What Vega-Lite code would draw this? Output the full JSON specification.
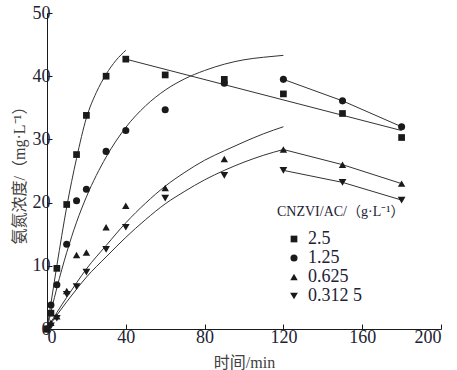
{
  "$schema": "https://vega.github.io/schema/vega-lite/v6.json",
  "width": 394,
  "height": 316,
  "autosize": {"type": "none"},
  "padding": {"left": 47, "top": 13, "right": 16, "bottom": 41},
  "config": {
    "view": {"stroke": null},
    "font": "Liberation Serif",
    "axis": {
      "grid": false,
      "domainColor": "#1a1a1a",
      "domainWidth": 1,
      "tickColor": "#1a1a1a",
      "tickWidth": 1,
      "labelFont": "Liberation Serif",
      "labelFontSize": 18,
      "labelColor": "#222233",
      "titleFont": "Liberation Serif, Noto Sans CJK SC",
      "titleFontSize": 16,
      "titleFontWeight": "normal",
      "titleColor": "#404040"
    }
  },
  "datasets": {
    "pts": [
      {"c": "2.5", "t": 0, "v": 0}, {"c": "2.5", "t": 2, "v": 2.5}, {"c": "2.5", "t": 5, "v": 9.6}, {"c": "2.5", "t": 10, "v": 19.7}, {"c": "2.5", "t": 15, "v": 27.6}, {"c": "2.5", "t": 20, "v": 33.8}, {"c": "2.5", "t": 30, "v": 40.0}, {"c": "2.5", "t": 40, "v": 42.7}, {"c": "2.5", "t": 60, "v": 40.2}, {"c": "2.5", "t": 90, "v": 39.5}, {"c": "2.5", "t": 120, "v": 37.2}, {"c": "2.5", "t": 150, "v": 34.1}, {"c": "2.5", "t": 180, "v": 30.3},
      {"c": "1.25", "t": 0, "v": 0}, {"c": "1.25", "t": 2, "v": 3.8}, {"c": "1.25", "t": 5, "v": 7.0}, {"c": "1.25", "t": 10, "v": 13.4}, {"c": "1.25", "t": 15, "v": 20.3}, {"c": "1.25", "t": 20, "v": 22.1}, {"c": "1.25", "t": 30, "v": 28.1}, {"c": "1.25", "t": 40, "v": 31.4}, {"c": "1.25", "t": 60, "v": 34.7}, {"c": "1.25", "t": 90, "v": 38.9}, {"c": "1.25", "t": 120, "v": 39.5}, {"c": "1.25", "t": 150, "v": 36.1}, {"c": "1.25", "t": 180, "v": 32.0},
      {"c": "0.625", "t": 0, "v": 0}, {"c": "0.625", "t": 2, "v": 1.0}, {"c": "0.625", "t": 5, "v": 2.0}, {"c": "0.625", "t": 10, "v": 6.0}, {"c": "0.625", "t": 15, "v": 11.7}, {"c": "0.625", "t": 20, "v": 12.1}, {"c": "0.625", "t": 30, "v": 16.1}, {"c": "0.625", "t": 40, "v": 19.5}, {"c": "0.625", "t": 60, "v": 22.3}, {"c": "0.625", "t": 90, "v": 26.9}, {"c": "0.625", "t": 120, "v": 28.4}, {"c": "0.625", "t": 150, "v": 26.0}, {"c": "0.625", "t": 180, "v": 23.0},
      {"c": "0.312 5", "t": 0, "v": 0}, {"c": "0.312 5", "t": 2, "v": 0.5}, {"c": "0.312 5", "t": 5, "v": 1.7}, {"c": "0.312 5", "t": 10, "v": 5.5}, {"c": "0.312 5", "t": 15, "v": 6.7}, {"c": "0.312 5", "t": 20, "v": 9.0}, {"c": "0.312 5", "t": 30, "v": 12.6}, {"c": "0.312 5", "t": 40, "v": 16.1}, {"c": "0.312 5", "t": 60, "v": 20.7}, {"c": "0.312 5", "t": 90, "v": 24.3}, {"c": "0.312 5", "t": 120, "v": 25.1}, {"c": "0.312 5", "t": 150, "v": 23.2}, {"c": "0.312 5", "t": 180, "v": 20.4}
    ],
    "curves": [
      {"id": "sq", "t": 0, "v": 0}, {"id": "sq", "t": 5, "v": 10.0}, {"id": "sq", "t": 10, "v": 19.3}, {"id": "sq", "t": 15, "v": 27.0}, {"id": "sq", "t": 20, "v": 33.4}, {"id": "sq", "t": 25, "v": 37.4}, {"id": "sq", "t": 30, "v": 40.3}, {"id": "sq", "t": 35, "v": 42.5}, {"id": "sq", "t": 40, "v": 44.1},
      {"id": "ci", "t": 0, "v": 0}, {"id": "ci", "t": 5, "v": 6.5}, {"id": "ci", "t": 10, "v": 12.1}, {"id": "ci", "t": 15, "v": 16.9}, {"id": "ci", "t": 20, "v": 20.9}, {"id": "ci", "t": 30, "v": 27.2}, {"id": "ci", "t": 40, "v": 31.9}, {"id": "ci", "t": 50, "v": 35.3}, {"id": "ci", "t": 60, "v": 37.8}, {"id": "ci", "t": 70, "v": 39.6}, {"id": "ci", "t": 80, "v": 40.9}, {"id": "ci", "t": 90, "v": 41.9}, {"id": "ci", "t": 100, "v": 42.6}, {"id": "ci", "t": 110, "v": 43.0}, {"id": "ci", "t": 120, "v": 43.3},
      {"id": "a", "t": 0, "v": 0}, {"id": "a", "t": 5, "v": 2.6}, {"id": "a", "t": 10, "v": 5.0}, {"id": "a", "t": 15, "v": 7.3}, {"id": "a", "t": 20, "v": 9.5}, {"id": "a", "t": 30, "v": 13.2}, {"id": "a", "t": 40, "v": 16.8}, {"id": "a", "t": 50, "v": 19.9}, {"id": "a", "t": 60, "v": 22.6}, {"id": "a", "t": 70, "v": 24.8}, {"id": "a", "t": 80, "v": 26.7}, {"id": "a", "t": 90, "v": 28.2}, {"id": "a", "t": 100, "v": 29.6}, {"id": "a", "t": 110, "v": 30.9}, {"id": "a", "t": 120, "v": 32.0},
      {"id": "b", "t": 0, "v": 0}, {"id": "b", "t": 5, "v": 2.2}, {"id": "b", "t": 10, "v": 4.3}, {"id": "b", "t": 15, "v": 6.3}, {"id": "b", "t": 20, "v": 8.2}, {"id": "b", "t": 30, "v": 11.4}, {"id": "b", "t": 40, "v": 14.5}, {"id": "b", "t": 50, "v": 17.3}, {"id": "b", "t": 60, "v": 19.8}, {"id": "b", "t": 70, "v": 21.8}, {"id": "b", "t": 80, "v": 23.6}, {"id": "b", "t": 90, "v": 25.1}, {"id": "b", "t": 100, "v": 26.4}, {"id": "b", "t": 110, "v": 27.5}, {"id": "b", "t": 120, "v": 28.4}
    ],
    "segs": [
      {"id": "sq", "t": 40, "v": 42.7}, {"id": "sq", "t": 180, "v": 31.4},
      {"id": "ci", "t": 120, "v": 39.5}, {"id": "ci", "t": 150, "v": 36.1}, {"id": "ci", "t": 180, "v": 32.0},
      {"id": "up", "t": 120, "v": 28.4}, {"id": "up", "t": 150, "v": 26.0}, {"id": "up", "t": 180, "v": 23.0},
      {"id": "dn", "t": 120, "v": 25.1}, {"id": "dn", "t": 150, "v": 23.2}, {"id": "dn", "t": 180, "v": 20.4}
    ]
  },
  "layer": [
    {
      "data": {"name": "curves"},
      "mark": {"type": "line", "interpolate": "monotone", "color": "#333333", "strokeWidth": 1},
      "encoding": {
        "x": {
          "field": "t", "type": "quantitative",
          "scale": {"domain": [0, 200], "nice": false},
          "axis": {
            "title": "时间/min",
            "values": [0, 20, 40, 60, 80, 100, 120, 140, 160, 180, 200],
            "labelExpr": "datum.value % 40 === 0 ? datum.label : ''",
            "tickSize": {"condition": {"test": "datum.value % 40 === 0", "value": -5}, "value": -3},
            "labelPadding": 4,
            "titlePadding": 8
          }
        },
        "y": {
          "field": "v", "type": "quantitative",
          "scale": {"domain": [0, 50], "nice": false},
          "axis": {
            "title": "氨氮浓度/（mg·L⁻¹）",
            "values": [0, 5, 10, 15, 20, 25, 30, 35, 40, 45, 50],
            "labelExpr": "datum.value % 10 === 0 ? datum.label : ''",
            "tickSize": {"condition": {"test": "datum.value % 10 === 0", "value": -5}, "value": -3},
            "labelPadding": 2,
            "titlePadding": 5
          }
        },
        "detail": {"field": "id"}
      }
    },
    {
      "data": {"name": "segs"},
      "mark": {"type": "line", "color": "#333333", "strokeWidth": 1},
      "encoding": {
        "x": {"field": "t", "type": "quantitative"},
        "y": {"field": "v", "type": "quantitative"},
        "detail": {"field": "id"}
      }
    },
    {
      "data": {"name": "pts"},
      "mark": {"type": "point", "filled": true, "opacity": 1, "color": "#1a1a1a"},
      "encoding": {
        "x": {"field": "t", "type": "quantitative"},
        "y": {"field": "v", "type": "quantitative"},
        "shape": {
          "field": "c", "type": "nominal",
          "scale": {"domain": ["2.5", "1.25", "0.625", "0.312 5"], "range": ["square", "circle", "triangle-up", "triangle-down"]},
          "legend": {
            "orient": "none",
            "legendX": 230,
            "legendY": 192,
            "title": "CNZVI/AC/（g·L⁻¹）",
            "titleFont": "Liberation Serif, Noto Sans CJK SC",
            "titleFontSize": 14,
            "titleFontWeight": "normal",
            "titleColor": "#222233",
            "titlePadding": 11,
            "labelFont": "Liberation Serif",
            "labelFontSize": 18,
            "labelColor": "#222233",
            "symbolOffset": 8,
            "labelOffset": 5,
            "rowPadding": 1
          }
        },
        "size": {
          "field": "c", "type": "nominal",
          "scale": {"domain": ["2.5", "1.25", "0.625", "0.312 5"], "range": [45, 60, 80, 80]}
        }
      }
    }
  ]
}
